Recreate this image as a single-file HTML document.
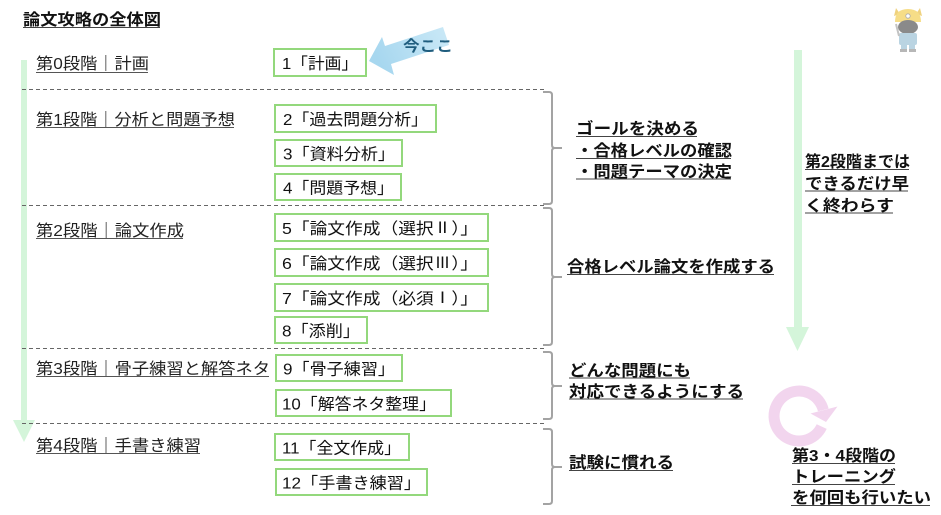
<!DOCTYPE html>
<html><head><meta charset="utf-8"><style>
html,body{margin:0;padding:0;background:#fff;}
svg{display:block;}
text{font-family:"Liberation Sans","Noto Sans CJK JP",sans-serif;}
.cjk{font-family:"Noto Sans CJK JP",sans-serif;}
.rn{font-family:"IPAGothic","WenQuanYi Zen Hei","Noto Sans CJK JP",sans-serif;}
</style></head><body>
<svg width="941" height="515" viewBox="0 0 941 515" xmlns="http://www.w3.org/2000/svg">
<defs>
<linearGradient id="bg1" x1="1" y1="0" x2="0" y2="0.3">
<stop offset="0" stop-color="#cbe9f7"/><stop offset="1" stop-color="#a7d7ef"/>
</linearGradient>
</defs>
<rect width="941" height="515" fill="#fff"/>

<!-- left green arrow -->
<polygon points="21,60 27,60 27,420 35,420 24,442 13,420 21,420" fill="#d4f5da"/>
<!-- right green arrow -->
<polygon points="794,50 802,50 802,327 809,327 797.5,351 786,327 794,327" fill="#d4f5da"/>

<!-- dashed lines -->
<g stroke="#666" stroke-width="1" stroke-dasharray="4,3">
<line x1="22" y1="89.5" x2="546" y2="89.5"/>
<line x1="22" y1="205.5" x2="546" y2="205.5"/>
<line x1="22" y1="348.5" x2="546" y2="348.5"/>
<line x1="22" y1="423.5" x2="546" y2="423.5"/>
</g>

<!-- braces -->
<g fill="none" stroke="#a3a3a3" stroke-width="2">
<path d="M543 92 L549 92 Q552 92 552 95 L552 145 Q552 148 555 148 L562 148 M555 148 Q552 148 552 151 L552 201 Q552 204 549 204 L543 204"/>
<path d="M543 208 L549 208 Q552 208 552 211 L552 274 Q552 277 555 277 L562 277 M555 277 Q552 277 552 280 L552 342 Q552 345 549 345 L543 345"/>
<path d="M543 352 L549 352 Q552 352 552 355 L552 383 Q552 386 555 386 L562 386 M555 386 Q552 386 552 389 L552 416 Q552 419 549 419 L543 419"/>
<path d="M543 429 L549 429 Q552 429 552 432 L552 464 Q552 467 555 467 L562 467 M555 467 Q552 467 552 470 L552 501 Q552 504 549 504 L543 504"/>
</g>

<!-- boxes -->
<g fill="#fff" stroke="#93d87c" stroke-width="2">
<rect x="274" y="49" width="92" height="27"/>
<rect x="275" y="105" width="161" height="27"/>
<rect x="275" y="140" width="127" height="26"/>
<rect x="275" y="174" width="126" height="26"/>
<rect x="275" y="214" width="213" height="27"/>
<rect x="275" y="249" width="213" height="27"/>
<rect x="275" y="284" width="213" height="27"/>
<rect x="275" y="317" width="92" height="26"/>
<rect x="276" y="355" width="126" height="26"/>
<rect x="276" y="390" width="175" height="26"/>
<rect x="275" y="434" width="134" height="26"/>
<rect x="276" y="469" width="151" height="26"/>
</g>

<!-- box texts -->
<g font-size="16" fill="#111">
<text x="282" y="69" textLength="76" lengthAdjust="spacingAndGlyphs">1「計画」</text>
<text x="283" y="125" textLength="145" lengthAdjust="spacingAndGlyphs">2「過去問題分析」</text>
<text x="283" y="159.5" textLength="112" lengthAdjust="spacingAndGlyphs">3「資料分析」</text>
<text x="283" y="193.5" textLength="111" lengthAdjust="spacingAndGlyphs">4「問題予想」</text>
<text x="282" y="234" textLength="196" lengthAdjust="spacingAndGlyphs">5<tspan class="cjk">「論文作成（選択</tspan><tspan class="rn">Ⅱ</tspan><tspan class="cjk">）」</tspan></text>
<text x="282" y="269" textLength="196" lengthAdjust="spacingAndGlyphs">6<tspan class="cjk">「論文作成（選択</tspan><tspan class="rn">Ⅲ</tspan><tspan class="cjk">）」</tspan></text>
<text x="282" y="304" textLength="196" lengthAdjust="spacingAndGlyphs">7<tspan class="cjk">「論文作成（必須</tspan><tspan class="rn">Ⅰ</tspan><tspan class="cjk">）」</tspan></text>
<text x="282" y="336.5" textLength="78" lengthAdjust="spacingAndGlyphs">8「添削」</text>
<text x="283" y="374.5" textLength="112" lengthAdjust="spacingAndGlyphs">9「骨子練習」</text>
<text x="282" y="409.5" textLength="154" lengthAdjust="spacingAndGlyphs">10「解答ネタ整理」</text>
<text x="282" y="453.5" textLength="119" lengthAdjust="spacingAndGlyphs">11「全文作成」</text>
<text x="282" y="488.5" textLength="139" lengthAdjust="spacingAndGlyphs">12「手書き練習」</text>
</g>

<!-- title -->
<text x="23" y="25" font-size="16" font-weight="bold" fill="#111" textLength="138" lengthAdjust="spacingAndGlyphs">論文攻略の全体図</text>
<line x1="23" y1="27.5" x2="160" y2="27.5" stroke="#444" stroke-width="1"/>

<!-- stage labels -->
<g font-size="16" fill="#222">
<text x="36" y="69" textLength="113" lengthAdjust="spacingAndGlyphs">第0段階｜計画</text>
<text x="36" y="125" textLength="199" lengthAdjust="spacingAndGlyphs">第1段階｜分析と問題予想</text>
<text x="36" y="236" textLength="148" lengthAdjust="spacingAndGlyphs">第2段階｜論文作成</text>
<text x="36" y="374" textLength="234" lengthAdjust="spacingAndGlyphs">第3段階｜骨子練習と解答ネタ</text>
<text x="36" y="451" textLength="165" lengthAdjust="spacingAndGlyphs">第4段階｜手書き練習</text>
</g>
<g stroke="#555" stroke-width="1">
<line x1="36" y1="72.5" x2="148" y2="72.5"/>
<line x1="36" y1="127.5" x2="234" y2="127.5"/>
<line x1="36" y1="238.5" x2="183" y2="238.5"/>
<line x1="36" y1="376.5" x2="269" y2="376.5"/>
<line x1="36" y1="453.5" x2="200" y2="453.5"/>
</g>

<!-- right labels -->
<g font-size="16" font-weight="bold" fill="#111">
<text x="576" y="134" textLength="123" lengthAdjust="spacingAndGlyphs">ゴールを決める</text>
<text x="576" y="156" textLength="156" lengthAdjust="spacingAndGlyphs">・合格レベルの確認</text>
<text x="576" y="177" textLength="156" lengthAdjust="spacingAndGlyphs">・問題テーマの決定</text>
<text x="567" y="272" textLength="208" lengthAdjust="spacingAndGlyphs">合格レベル論文を作成する</text>
<text x="569" y="376" textLength="122" lengthAdjust="spacingAndGlyphs">どんな問題にも</text>
<text x="569" y="397" textLength="175" lengthAdjust="spacingAndGlyphs">対応できるようにする</text>
<text x="569" y="468" textLength="105" lengthAdjust="spacingAndGlyphs">試験に慣れる</text>
<text x="805" y="167" textLength="105" lengthAdjust="spacingAndGlyphs">第2段階までは</text>
<text x="805" y="189" textLength="104" lengthAdjust="spacingAndGlyphs">できるだけ早</text>
<text x="805" y="211" textLength="89" lengthAdjust="spacingAndGlyphs">く終わらす</text>
</g>
<g stroke="#444" stroke-width="1">
<line x1="576" y1="136.5" x2="697" y2="136.5"/>
<line x1="576" y1="158.5" x2="731" y2="158.5"/>
<line x1="576" y1="179" x2="731" y2="179"/>
<line x1="567" y1="274.5" x2="774" y2="274.5"/>
<line x1="569" y1="378" x2="690" y2="378"/>
<line x1="569" y1="399" x2="743" y2="399"/>
<line x1="569" y1="470.5" x2="673" y2="470.5"/>
<line x1="805" y1="169.5" x2="909" y2="169.5"/>
<line x1="805" y1="191" x2="908" y2="191"/>
<line x1="805" y1="213" x2="893" y2="213"/>
</g>

<!-- pink circular arrow -->
<path d="M821.7 426.6 A25 25 0 1 1 823.3 410" fill="none" stroke="#f2d5ee" stroke-width="11"/>
<polygon points="810.5,413.5 837.5,406.5 826,422" fill="#f2d5ee"/>

<g font-size="16" font-weight="bold" fill="#111">
<text x="792" y="461" textLength="104" lengthAdjust="spacingAndGlyphs">第3・4段階の</text>
<text x="792" y="482" textLength="104" lengthAdjust="spacingAndGlyphs">トレーニング</text>
<text x="792" y="503" textLength="139" lengthAdjust="spacingAndGlyphs">を何回も行いたい</text>
</g>
<g stroke="#444" stroke-width="1">
<line x1="792" y1="463.5" x2="895" y2="463.5"/>
<line x1="792" y1="484.5" x2="895" y2="484.5"/>
<line x1="791" y1="505.5" x2="930" y2="505.5"/>
</g>

<!-- "now here" arrow -->
<polygon points="369,61 382,37 385,46 443,27 449,45 391,64 394,75" fill="url(#bg1)"/>
<text x="403" y="51" font-size="15" font-weight="bold" fill="#1f5d7e" textLength="50" lengthAdjust="spacingAndGlyphs">今ここ</text>

<!-- character icon -->
<g opacity="0.7">
<polygon points="896,8 900,14 894,16" fill="#e9c04a"/>
<polygon points="920,8 922,16 916,14" fill="#e9c04a"/>
<path d="M895 22 Q895 9 908 9 Q921 9 921 22 Z" fill="#f3cf55"/>
<circle cx="908" cy="16" r="2.2" fill="#fff" stroke="#888" stroke-width="0.8"/>
<ellipse cx="908" cy="27" rx="10" ry="7" fill="#5a5a5a"/>
<rect x="899" y="33" width="18" height="12" rx="2" fill="#9ec3d6"/>
<rect x="901" y="44" width="6" height="6" fill="#9ec3d6"/>
<rect x="909" y="44" width="6" height="6" fill="#9ec3d6"/>
<rect x="900" y="49" width="7" height="3" fill="#999"/>
<rect x="909" y="49" width="7" height="3" fill="#999"/>
<line x1="896" y1="24" x2="899" y2="36" stroke="#aaa" stroke-width="2"/>
</g>
</svg>
</body></html>
